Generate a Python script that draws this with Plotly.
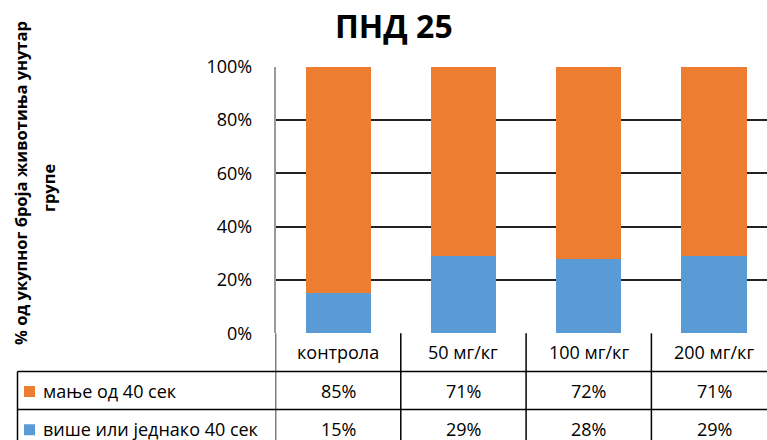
import plotly.graph_objects as go

categories = ["контрола", "50 мг/кг", "100 мг/кг", "200 мг/кг"]
series_names = ["мање од 40 сек", "више или једнако 40 сек"]
less_40 = [85, 71, 72, 71]
more_eq_40 = [15, 29, 28, 29]
y_ticks = [0, 20, 40, 60, 80, 100]
title_text = "ПНД 25"
y_title_1 = "% од укупног броја животиња унутар"
y_title_2 = "групе"

ORANGE = "#ED7D31"
BLUE = "#5B9BD5"
FONT = "Open Sans"

W, H = 767, 440


def px(x):
    return x / W


def py(y):
    return 1 - y / H


plot_left = 275.5
cat_w = 125.3
y_top, y_bot = 66.7, 333.3
row1, row2, row3 = 371.5, 409.5, 448
tbl_left = 17.5

fig = go.Figure()
fig.add_trace(go.Bar(x=categories, y=more_eq_40, name=series_names[1],
                     marker=dict(color=BLUE, line=dict(width=0))))
fig.add_trace(go.Bar(x=categories, y=less_40, name=series_names[0],
                     marker=dict(color=ORANGE, line=dict(width=0))))

annotations = []
shapes = []

# Title
annotations.append(dict(text=f"<b>{title_text}</b>", x=px(394), y=py(26), xref="paper", yref="paper",
                        showarrow=False, font=dict(family=FONT, size=32, color="#000"),
                        xanchor="center", yanchor="middle"))
# Y title
annotations.append(dict(text=f"<b>{y_title_1}</b>", x=px(20), y=py(183), xref="paper", yref="paper",
                        showarrow=False, textangle=-90, font=dict(family=FONT, size=16.5, color="#000"),
                        xanchor="center", yanchor="middle"))
annotations.append(dict(text=f"<b>{y_title_2}</b>", x=px(48), y=py(188), xref="paper", yref="paper",
                        showarrow=False, textangle=-90, font=dict(family=FONT, size=16.5, color="#000"),
                        xanchor="center", yanchor="middle"))

cell_font = dict(family=FONT, size=18, color="#000")
# Header row: categories
for c in categories:
    annotations.append(dict(text=c, x=c, y=py((y_bot + row1) / 2), xref="x", yref="paper",
                            showarrow=False, font=cell_font, xanchor="center", yanchor="middle"))
# Data rows
for vals, r0, r1 in [(less_40, row1, row2), (more_eq_40, row2, row3)]:
    for c, v in zip(categories, vals):
        annotations.append(dict(text=f"{v}%", x=c, y=py((r0 + r1) / 2), xref="x", yref="paper",
                                showarrow=False, font=cell_font, xanchor="center", yanchor="middle"))
# Legend labels in table
for name, color, r0, r1 in [(series_names[0], ORANGE, row1, row2), (series_names[1], BLUE, row2, row3)]:
    yc = (r0 + r1) / 2
    shapes.append(dict(type="rect", xref="paper", yref="paper", x0=px(24), x1=px(35),
                       y0=py(yc - 5.5 + 1), y1=py(yc + 5.5 + 1), fillcolor=color, line=dict(width=0)))
    annotations.append(dict(text=name, x=px(41), y=py(yc), xref="paper", yref="paper",
                            showarrow=False, font=cell_font, xanchor="left", yanchor="middle"))

LINE = dict(color="#000", width=1.5)
# vertical table lines at category boundaries
for i in range(len(categories) + 1):
    shapes.append(dict(type="line", xref="x", yref="paper", x0=i - 0.5, x1=i - 0.5,
                       y0=py(y_bot), y1=py(H + 5), line=LINE))
# left border of legend rows
shapes.append(dict(type="line", xref="paper", yref="paper", x0=px(tbl_left), x1=px(tbl_left),
                   y0=py(row1), y1=py(H + 5), line=LINE))
# horizontal table lines
for r in [row1, row2]:
    shapes.append(dict(type="line", xref="paper", yref="paper", x0=px(tbl_left), x1=1.01,
                       y0=py(r), y1=py(r), line=LINE))

fig.update_layout(
    width=W, height=H,
    margin=dict(l=0, r=0, t=0, b=0, pad=0, autoexpand=False),
    paper_bgcolor="white", plot_bgcolor="white",
    barmode="stack", bargap=0.48,
    showlegend=False,
    annotations=annotations, shapes=shapes,
    xaxis=dict(domain=[px(plot_left), 1], range=[-0.5, -0.5 + (W - plot_left) / cat_w],
               categoryorder="array", categoryarray=categories, automargin=False,
               showticklabels=False, ticks="", showgrid=False, zeroline=False,
               showline=False),
    yaxis=dict(domain=[py(y_bot), py(y_top)], range=[0, 100], automargin=False,
               tickmode="array", tickvals=y_ticks, ticktext=[f"{v}%" for v in y_ticks],
               showgrid=True, gridcolor="#222", gridwidth=1.5,
               zeroline=False, showline=True, linecolor="#9a9a9a", linewidth=1.5,
               ticks="outside", ticklen=18, tickcolor="rgba(0,0,0,0)",
               tickfont=dict(family=FONT, size=18, color="#000")),
)

fig.write_html("out.html", config={"displayModeBar": False},
               post_script="document.body.style.margin='0';document.body.style.overflow='hidden';")
